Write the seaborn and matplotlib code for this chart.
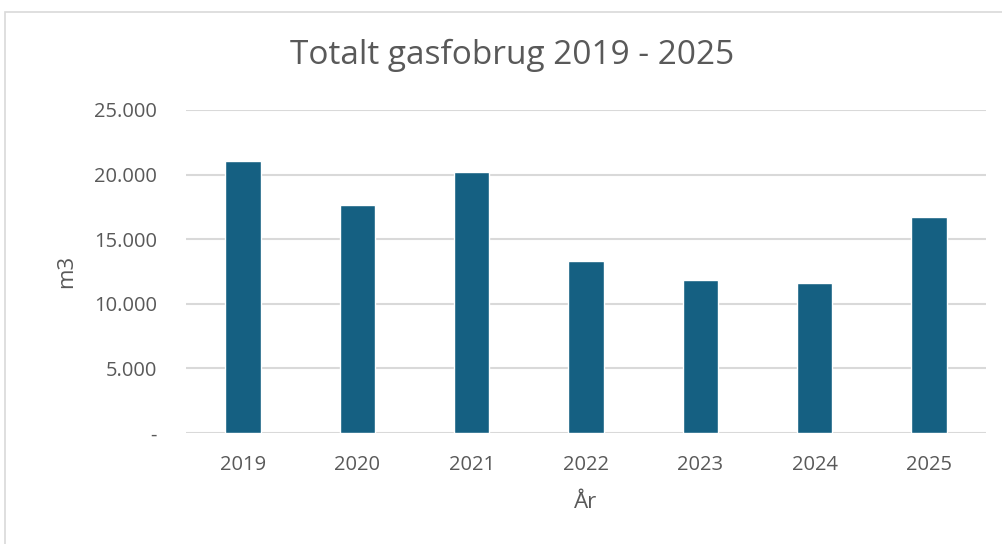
import matplotlib
matplotlib.use("Agg")
import matplotlib.pyplot as plt
import seaborn as sns
import pandas as pd
from matplotlib.patches import Rectangle
from matplotlib.ticker import FuncFormatter

years = ["2019", "2020", "2021", "2022", "2023", "2024", "2025"]
gas_m3 = [21040, 17650, 20190, 13320, 11830, 11590, 16750]
y_ticks = [0, 5000, 10000, 15000, 20000, 25000]

bar_color = "#156082"
text_color = "#595959"
grid_color = "#D9D9D9"

sns.set_theme(style="white")
plt.rcParams['font.family'] = ['Open Sans', 'DejaVu Sans']

df = pd.DataFrame({"year": years, "m3": gas_m3})

fig = plt.figure(figsize=(10.03, 5.44), dpi=100)
ax = fig.add_axes([0.1854, 0.204, 0.7976, 0.594])

sns.barplot(data=df, x="year", y="m3", color=bar_color, saturation=1,
            width=0.31, ax=ax, zorder=3)

ax.set_ylim(0, 25000)
ax.set_xlim(-0.5, len(years) - 0.5)
ax.set_yticks(y_ticks)
ax.yaxis.set_major_formatter(FuncFormatter(
    lambda v, p: "-" if v == 0 else f"{int(v):,}".replace(",", ".")))
ax.grid(axis="y", color=grid_color, linewidth=1.5, zorder=0)
for s in ax.spines.values():
    s.set_visible(False)
ax.tick_params(axis="both", length=0, labelsize=14.5, colors=text_color)
ax.tick_params(axis="y", pad=21)
ax.tick_params(axis="x", pad=16)

ax.set_xlabel("År", fontsize=16, color=text_color, labelpad=12)
ax.set_ylabel("m3", fontsize=16, color=text_color, labelpad=12)

fig.text(512 / 1003, 1 - 55 / 544, "Totalt gasfobrug 2019 - 2025",
         ha="center", va="center", fontsize=24, color=text_color)

# chart border like the spreadsheet chart frame
fig.patches.append(Rectangle((5 / 1003, -0.1), 1.2, 1 - 12 / 544 + 0.1,
                             transform=fig.transFigure, fill=False,
                             edgecolor="#D9D9D9", linewidth=1.2))

fig.savefig("out.png", dpi=100)
